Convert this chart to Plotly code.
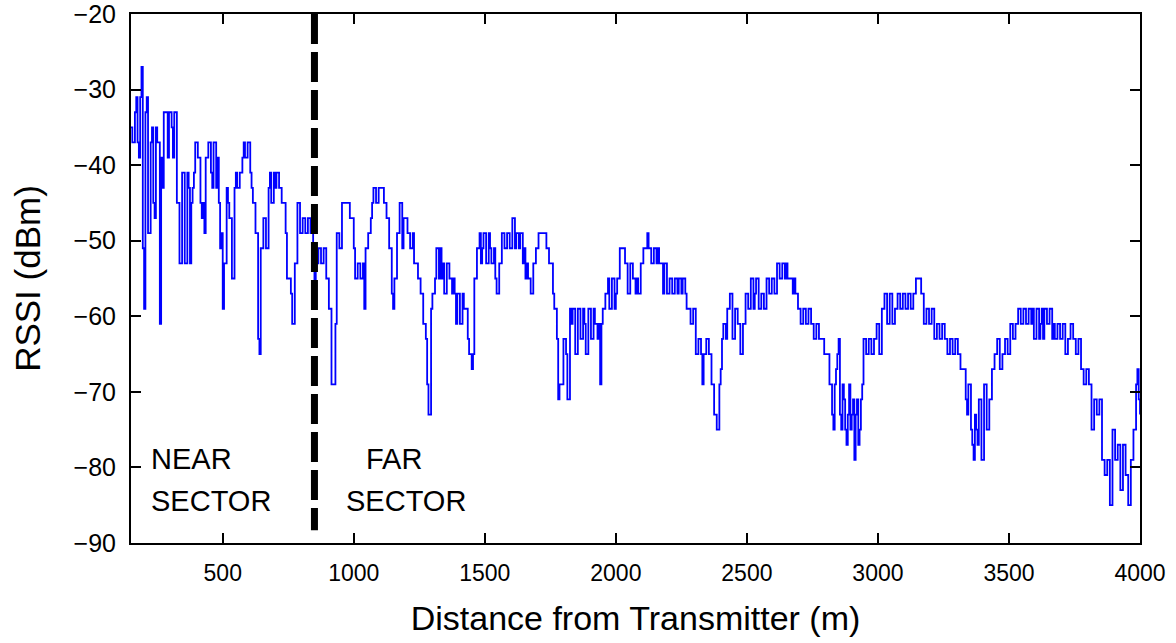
import plotly.graph_objects as go

# Received signal strength sampled every 5 m along the drive route
DIST_START = 150   # m
DIST_STEP = 5      # m
rssi = [
    # 150 - 245 m
    -35, -37, -37, -33, -31, -37, -39, -31, -27, -51, -59, -33, -31, -49, -49, -37, -35, -45, -47, -35,
    # 250 - 345 m
    -37, -37, -61, -39, -43, -33, -33, -33, -39, -33, -33, -35, -39, -33, -33, -45, -45, -53, -53, -41,
    # 350 - 445 m
    -41, -53, -53, -41, -43, -53, -45, -43, -41, -37, -37, -39, -39, -45, -47, -45, -49, -39, -39, -37,
    # 450 - 545 m
    -37, -41, -43, -37, -37, -43, -39, -45, -51, -49, -59, -53, -53, -43, -45, -47, -47, -55, -55, -43,
    # 550 - 645 m
    -41, -43, -43, -41, -41, -39, -37, -39, -39, -37, -37, -41, -43, -45, -45, -49, -49, -63, -65, -51,
    # 650 - 745 m
    -51, -47, -47, -51, -51, -43, -41, -45, -45, -41, -43, -41, -41, -43, -43, -45, -45, -45, -49, -55,
    # 750 - 845 m
    -55, -55, -57, -61, -61, -53, -53, -45, -45, -49, -49, -47, -47, -49, -49, -47, -47, -49, -49, -51,
    # 850 - 945 m
    -59, -53, -53, -51, -51, -53, -53, -51, -51, -55, -55, -59, -59, -69, -69, -69, -61, -49, -49, -51,
    # 950 - 1045 m
    -51, -45, -45, -45, -45, -45, -45, -47, -47, -47, -51, -55, -55, -53, -53, -55, -55, -53, -59, -51,
    # 1050 - 1145 m
    -51, -49, -49, -47, -45, -43, -43, -45, -45, -43, -43, -43, -43, -45, -45, -47, -47, -51, -51, -57,
    # 1150 - 1245 m
    -59, -55, -55, -49, -49, -45, -45, -51, -47, -47, -47, -49, -49, -51, -51, -49, -53, -53, -53, -55,
    # 1250 - 1345 m
    -55, -57, -57, -61, -61, -63, -69, -73, -73, -59, -57, -57, -55, -51, -51, -55, -51, -55, -53, -57,
    # 1350 - 1445 m
    -57, -53, -53, -55, -55, -57, -55, -57, -61, -57, -57, -61, -61, -57, -59, -59, -59, -63, -65, -65,
    # 1450 - 1545 m
    -67, -65, -55, -55, -51, -51, -49, -53, -51, -49, -49, -53, -53, -49, -51, -53, -53, -51, -55, -57,
    # 1550 - 1645 m
    -57, -53, -53, -49, -49, -51, -51, -49, -49, -51, -51, -47, -47, -51, -49, -49, -51, -49, -49, -53,
    # 1650 - 1745 m
    -51, -55, -53, -55, -55, -57, -57, -53, -53, -51, -51, -49, -49, -49, -49, -49, -49, -51, -51, -53,
    # 1750 - 1845 m
    -53, -53, -57, -59, -59, -63, -71, -69, -69, -69, -63, -63, -65, -71, -71, -59, -61, -59, -59, -65,
    # 1850 - 1945 m
    -65, -59, -59, -63, -63, -59, -61, -65, -65, -59, -59, -63, -63, -59, -61, -61, -63, -61, -69, -61,
    # 1950 - 2045 m
    -59, -59, -57, -57, -55, -59, -59, -55, -55, -59, -57, -55, -55, -51, -51, -51, -51, -53, -53, -57,
    # 2050 - 2145 m
    -57, -53, -53, -55, -55, -57, -55, -57, -57, -53, -53, -51, -51, -51, -49, -51, -51, -53, -53, -51,
    # 2150 - 2245 m
    -51, -53, -51, -53, -53, -53, -57, -53, -53, -57, -57, -55, -55, -57, -57, -55, -55, -57, -55, -55,
    # 2250 - 2345 m
    -57, -55, -55, -57, -59, -59, -59, -61, -61, -59, -59, -65, -65, -63, -63, -65, -69, -65, -65, -63,
    # 2350 - 2445 m
    -63, -65, -65, -69, -69, -73, -73, -75, -75, -69, -67, -63, -61, -61, -63, -59, -59, -57, -57, -63,
    # 2450 - 2545 m
    -63, -59, -59, -61, -61, -65, -65, -61, -61, -57, -57, -59, -59, -55, -55, -59, -57, -55, -55, -59,
    # 2550 - 2645 m
    -59, -57, -57, -59, -59, -55, -55, -57, -57, -55, -55, -57, -57, -53, -53, -55, -55, -53, -53, -55,
    # 2650 - 2745 m
    -53, -55, -55, -55, -55, -57, -55, -57, -57, -59, -59, -61, -61, -59, -59, -61, -61, -59, -59, -61,
    # 2750 - 2845 m
    -61, -63, -63, -61, -61, -63, -63, -63, -63, -65, -65, -65, -65, -69, -69, -73, -75, -69, -67, -65,
    # 2850 - 2945 m
    -63, -73, -75, -69, -71, -75, -77, -73, -69, -75, -73, -71, -79, -73, -71, -77, -75, -71, -69, -63,
    # 2950 - 3045 m
    -63, -65, -65, -63, -63, -65, -65, -63, -63, -61, -61, -65, -65, -59, -59, -57, -57, -61, -61, -57,
    # 3050 - 3145 m
    -57, -61, -61, -59, -59, -57, -57, -59, -59, -57, -57, -59, -59, -57, -57, -59, -59, -57, -57, -55,
    # 3150 - 3245 m
    -55, -55, -55, -57, -57, -61, -61, -59, -59, -61, -61, -59, -59, -63, -63, -61, -61, -63, -63, -61,
    # 3250 - 3345 m
    -61, -63, -63, -65, -65, -63, -63, -65, -65, -63, -63, -65, -65, -67, -67, -67, -67, -71, -73, -69,
    # 3350 - 3445 m
    -69, -75, -77, -79, -73, -75, -77, -71, -71, -79, -79, -69, -69, -75, -75, -71, -71, -67, -67, -65,
    # 3450 - 3545 m
    -65, -63, -63, -67, -67, -65, -65, -63, -63, -65, -65, -61, -61, -63, -63, -61, -61, -59, -59, -61,
    # 3550 - 3645 m
    -61, -59, -59, -61, -61, -59, -59, -61, -59, -63, -63, -59, -59, -63, -61, -59, -63, -59, -59, -61,
    # 3650 - 3745 m
    -61, -59, -59, -63, -61, -63, -63, -61, -61, -63, -63, -61, -61, -65, -65, -63, -63, -61, -61, -63,
    # 3750 - 3845 m
    -63, -65, -65, -63, -63, -67, -67, -69, -69, -67, -67, -69, -69, -75, -75, -71, -71, -73, -73, -71,
    # 3850 - 3945 m
    -71, -79, -79, -81, -81, -79, -79, -85, -85, -75, -75, -79, -79, -77, -77, -83, -83, -77, -77, -81,
    # 3950 - 4000 m
    -81, -85, -85, -79, -79, -75, -75, -69, -67, -71, -73,
]
distance = [DIST_START + DIST_STEP * i for i in range(len(rssi))]

SECTOR_BOUNDARY = 850  # m
x_ticks = [500, 1000, 1500, 2000, 2500, 3000, 3500, 4000]
y_ticks = [-90, -80, -70, -60, -50, -40, -30, -20]

FONT = "Liberation Sans, Arial, Helvetica, sans-serif"

fig = go.Figure()
fig.add_trace(go.Scatter(
    x=distance, y=rssi, mode="lines",
    line=dict(color="#0000FF", width=1.8, shape="hv"),
    hoverinfo="x+y", showlegend=False,
))

# boundary between the near and far sectors
fig.add_shape(type="line", xref="x", yref="y",
              x0=SECTOR_BOUNDARY, x1=SECTOR_BOUNDARY, y0=-20, y1=-88.3,
              line=dict(color="black", width=7, dash="30px,8px"))

label_font = dict(family=FONT, size=29, color="black")
fig.add_annotation(x=218, y=-78.9, text="NEAR", showarrow=False,
                   xanchor="left", yanchor="middle", font=label_font)
fig.add_annotation(x=218, y=-84.4, text="SECTOR", showarrow=False,
                   xanchor="left", yanchor="middle", font=label_font)
fig.add_annotation(x=1040, y=-78.9, text="FAR", showarrow=False,
                   xanchor="left", yanchor="middle", font=label_font)
fig.add_annotation(x=963, y=-84.4, text="SECTOR", showarrow=False,
                   xanchor="left", yanchor="middle", font=label_font)

axis_common = dict(
    showline=True, linecolor="black", linewidth=2, mirror="ticks",
    ticks="inside", ticklen=10, tickwidth=1.5, tickcolor="black",
    showgrid=False, zeroline=False, ticklabeloverflow="allow",
    automargin=False,
)

fig.update_xaxes(
    range=[DIST_START, 4000], tickvals=x_ticks,
    tickfont=dict(family=FONT, size=23, color="black"),
    ticklabelstandoff=8,
    title=dict(text="Distance from Transmitter (m)",
               font=dict(family=FONT, size=34, color="black"), standoff=22),
    **axis_common,
)
fig.update_yaxes(
    range=[-90, -20], tickvals=y_ticks,
    tickfont=dict(family=FONT, size=25, color="black"),
    ticklabelstandoff=8,
    title=dict(text="RSSI (dBm)",
               font=dict(family=FONT, size=35, color="black"), standoff=22),
    **axis_common,
)

fig.update_layout(
    width=1176, height=643,
    margin=dict(l=131, r=36, t=14, b=100),
    paper_bgcolor="white", plot_bgcolor="white",
)

fig.write_html("out.html")
